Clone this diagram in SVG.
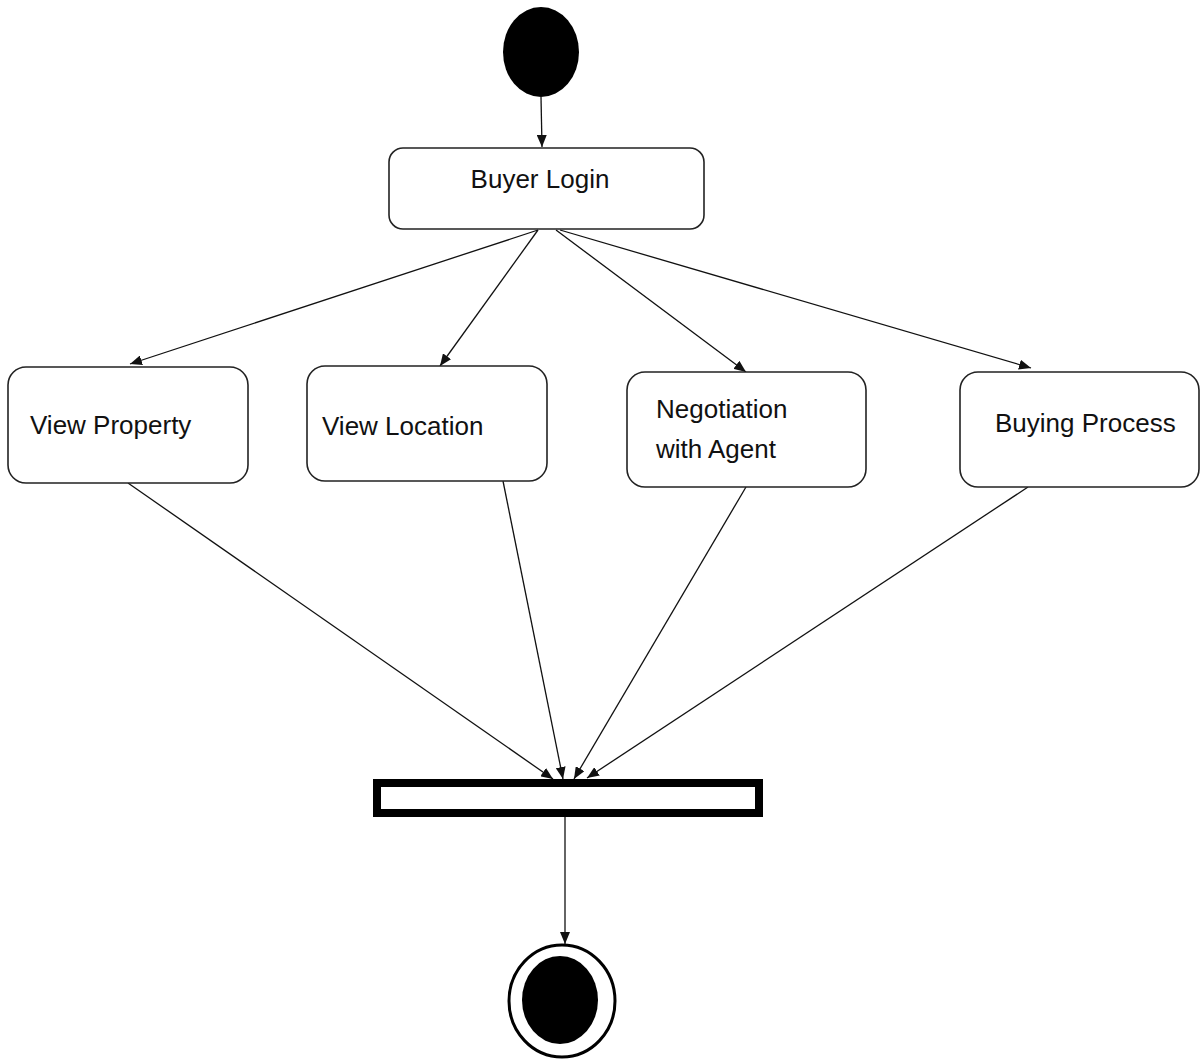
<svg xmlns="http://www.w3.org/2000/svg" width="1202" height="1061" viewBox="0 0 1202 1061">
  <style>
    .box { fill: #ffffff; stroke: #222222; stroke-width: 1.6; }
    .label { font-family: "Liberation Sans", Arial, sans-serif; font-size: 26px; fill: #111111; }
    .edge { stroke: #111111; stroke-width: 1.3; fill: none; marker-end: url(#arrow); }
  </style>
  <defs>
    <marker id="arrow" viewBox="0 0 12 10" refX="12" refY="5" markerWidth="12" markerHeight="10" markerUnits="userSpaceOnUse" orient="auto">
      <path d="M0,0 L12,5 L0,10 Z" fill="#111111"/>
    </marker>
  </defs>
  <rect width="1202" height="1061" fill="#ffffff"/>

  <!-- connectors -->
  <g id="connectors">
    <line class="edge" x1="541" y1="97" x2="542" y2="147"/>
    <line class="edge" x1="538" y1="230" x2="130" y2="364"/>
    <line class="edge" x1="538" y1="230" x2="440" y2="366"/>
    <line class="edge" x1="556" y1="230" x2="746" y2="372"/>
    <line class="edge" x1="560" y1="230" x2="1031" y2="368"/>
    <line class="edge" x1="128" y1="483" x2="553" y2="779"/>
    <line class="edge" x1="503" y1="481" x2="563" y2="779"/>
    <line class="edge" x1="746" y1="487" x2="574" y2="779"/>
    <line class="edge" x1="1028" y1="487" x2="587" y2="778"/>
    <line class="edge" x1="565" y1="817" x2="565" y2="944"/>
  </g>

  <!-- start node -->
  <g id="start">
    <ellipse cx="541" cy="52" rx="38" ry="45" fill="#000000"/>
  </g>

  <g id="buyer-login">
    <rect class="box" x="389" y="148" width="315" height="81" rx="14"/>
    <text class="label" x="540" y="188" text-anchor="middle">Buyer Login</text>
  </g>

  <g id="view-property">
    <rect class="box" x="8" y="367" width="240" height="116" rx="18"/>
    <text class="label" x="30" y="434">View Property</text>
  </g>

  <g id="view-location">
    <rect class="box" x="307" y="366" width="240" height="115" rx="18"/>
    <text class="label" x="322" y="435">View Location</text>
  </g>

  <g id="negotiation">
    <rect class="box" x="627" y="372" width="239" height="115" rx="18"/>
    <text class="label" x="656" y="418">Negotiation</text>
    <text class="label" x="656" y="458">with Agent</text>
  </g>

  <g id="buying-process">
    <rect class="box" x="960" y="372" width="239" height="115" rx="18"/>
    <text class="label" x="995" y="432">Buying Process</text>
  </g>

  <!-- join bar -->
  <g id="join">
    <rect x="377" y="783" width="382" height="30" fill="#ffffff" stroke="#000000" stroke-width="8"/>
  </g>

  <!-- final node -->
  <g id="end">
    <ellipse cx="562" cy="1001" rx="53" ry="56" fill="#ffffff" stroke="#000000" stroke-width="3"/>
    <ellipse cx="560" cy="1000" rx="38" ry="44" fill="#000000"/>
  </g>
</svg>
